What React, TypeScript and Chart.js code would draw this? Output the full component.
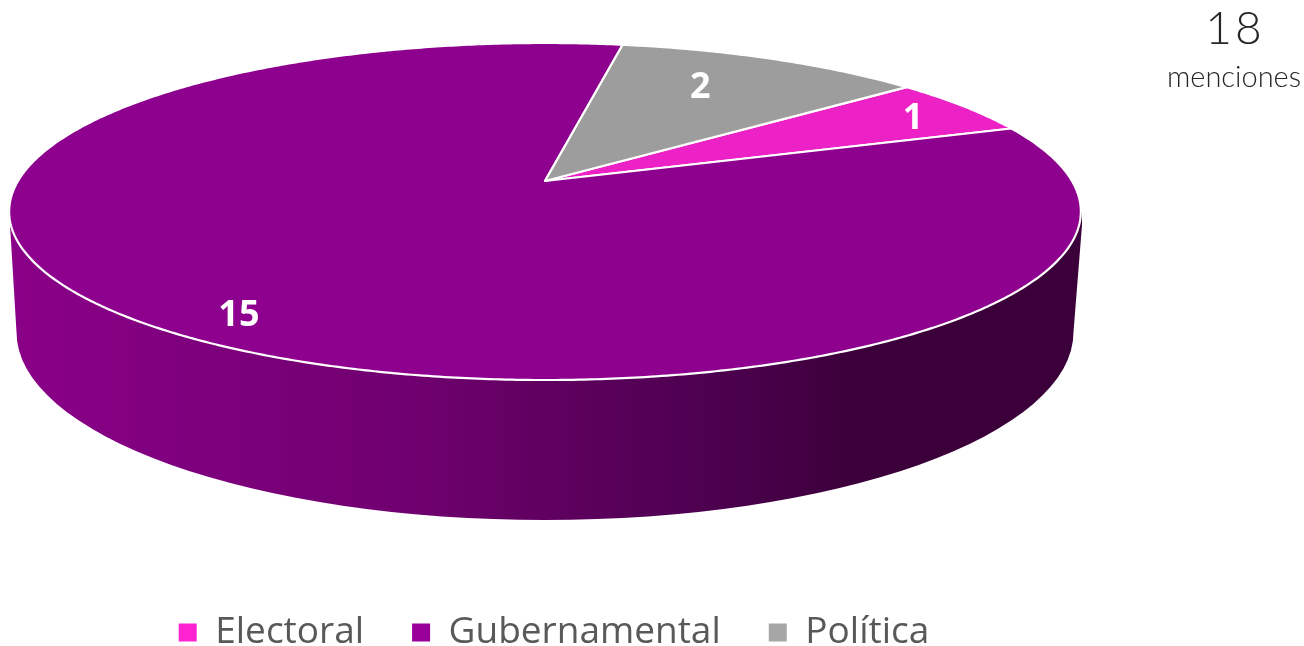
import React, { useEffect, useRef } from "react";
import { Chart, registerables } from "chart.js";

Chart.register(...registerables);

const categories = ["Electoral", "Gubernamental", "Política"];
const mentions = [1, 15, 2];
const legendColors = ["#ff22d0", "#990099", "#a6a6a6"];
const topColors = ["#ec22c6", "#8e008e", "#9d9d9d"];
const totalText = "18";
const totalCaption = "menciones";

// label placement in pie space: radius fraction and angular shift (degrees)
const labelRadius = [0.87, 0.87, 0.74];
const labelShift = [0, -4.4, -3.5];

// perspective view of the unit disc
const CX = 545;
const CY = 181;
const A = 527;
const B = 163;
const K = -0.181;

const project = (x: number, y: number): [number, number] => {
  const w = 1 + K * y;
  return [CX + (A * x) / w, CY + (B * y) / w];
};

const deg = Math.PI / 180;

const drawSide = (ctx: CanvasRenderingContext2D) => {
  const g = ctx.createLinearGradient(10, 0, 1082, 0);
  g.addColorStop(0, "#8a0088");
  g.addColorStop(0.37, "#700070");
  g.addColorStop(0.5, "#600060");
  g.addColorStop(0.65, "#4d0050");
  g.addColorStop(0.8, "#3b0039");
  g.addColorStop(1, "#3b0039");
  ctx.beginPath();
  ctx.moveTo(10, 212);
  ctx.lineTo(10, 225);
  ctx.lineTo(16.5, 332);
  ctx.ellipse(545, 332, 528.5, 188, 0, Math.PI, 0, true);
  ctx.lineTo(1082, 225);
  ctx.lineTo(1082, 212);
  ctx.closePath();
  ctx.fillStyle = g;
  ctx.fill();
};

const pie3d = {
  id: "pie3d",
  beforeDatasetsDraw(chart: any) {
    const ctx: CanvasRenderingContext2D = chart.ctx;
    const arcs = chart.getDatasetMeta(0).data;
    ctx.save();
    drawSide(ctx);
    arcs.forEach((arc: any, i: number) => {
      const { startAngle, endAngle } = arc.getProps(["startAngle", "endAngle"], true);
      ctx.beginPath();
      ctx.moveTo(CX, CY);
      const steps = Math.ceil((endAngle - startAngle) / (0.5 * deg));
      for (let s = 0; s <= steps; s++) {
        const t = startAngle + ((endAngle - startAngle) * s) / steps;
        const [px, py] = project(Math.cos(t), Math.sin(t));
        ctx.lineTo(px, py);
      }
      ctx.closePath();
      ctx.fillStyle = topColors[i];
      ctx.fill();
      ctx.strokeStyle = "#ffffff";
      ctx.lineWidth = 2.2;
      ctx.lineJoin = "round";
      ctx.stroke();
    });
    ctx.fillStyle = "#ffffff";
    ctx.font = "bold 36px 'Open Sans'";
    ctx.textAlign = "center";
    ctx.textBaseline = "middle";
    arcs.forEach((arc: any, i: number) => {
      const { startAngle, endAngle } = arc.getProps(["startAngle", "endAngle"], true);
      const mid = (startAngle + endAngle) / 2 + labelShift[i] * deg;
      const [px, py] = project(labelRadius[i] * Math.cos(mid), labelRadius[i] * Math.sin(mid));
      ctx.fillText(String(mentions[i]), px, py + 3);
    });
    ctx.restore();
    return false;
  },
};

export default function App() {
  const ref = useRef<HTMLCanvasElement>(null);
  useEffect(() => {
    const chart = new Chart(ref.current!, {
      type: "pie",
      data: {
        labels: categories,
        datasets: [{ data: mentions, backgroundColor: legendColors, borderWidth: 0 }],
      },
      options: {
        animation: false,
        responsive: false,
        events: [],
        rotation: 50,
        layout: { padding: { right: 196, bottom: -15 } },
        plugins: {
          tooltip: { enabled: false },
          legend: {
            position: "bottom",
            labels: {
              boxWidth: 18,
              boxHeight: 18,
              padding: 48,
              color: "#595959",
              font: { family: "'Open Sans'", size: 37 },
            },
          },
        },
      },
      plugins: [pie3d],
    } as any);
    return () => chart.destroy();
  }, []);
  return (
    <div style={{ position: "fixed", left: 0, top: 0, width: 1304, height: 646, background: "#fff", overflow: "hidden" }}>
      <canvas ref={ref} width={1304} height={646} style={{ display: "block" }} />
      <div style={{ position: "absolute", left: 1135, width: 200, top: 0, textAlign: "center", font: "300 46px Lato", lineHeight: "54px", color: "#262626", letterSpacing: 3 }}>
        {totalText}
      </div>
      <div style={{ position: "absolute", left: 1134, width: 200, top: 58, textAlign: "center", font: "300 29px Lato", lineHeight: "36px", color: "#262626" }}>
        {totalCaption}
      </div>
    </div>
  );
}
